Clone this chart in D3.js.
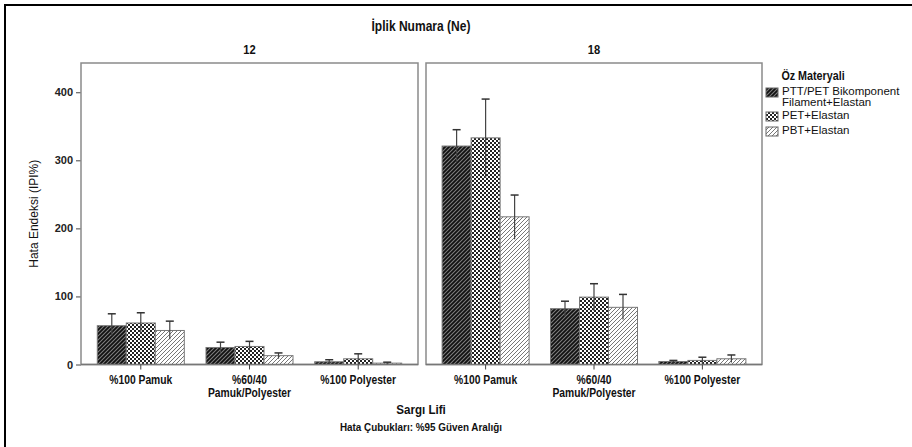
<!DOCTYPE html>
<html>
<head>
<meta charset="utf-8">
<script src="https://cdn.jsdelivr.net/npm/d3@7"></script>
<style>
  body { margin: 0; background: #fff; }
  .narrow { font-family: "Liberation Sans", Arial, sans-serif; font-weight: bold; }
  .sans { font-family: "Liberation Sans", Arial, sans-serif; }
</style>
</head>
<body>
<div id="chart"></div>
<script>
const WIDTH = 912, HEIGHT = 447;

// data
const panels = ["12", "18"];
const categories = ["%100 Pamuk", "%60/40\nPamuk/Polyester", "%100 Polyester"];
const series = ["PTT/PET Bikomponent\nFilament+Elastan", "PET+Elastan", "PBT+Elastan"];

// means [panel][category][series]
const means = [
  [[57, 61, 50], [25, 26.5, 13], [4, 8.4, 2]],
  [[321, 333, 217], [82, 99, 84], [4.4, 6, 8.4]]
];
const lowers = [
  [[42.6, 45, 37], [16, 18, 8.5], [1, 1, 0.5]],
  [[297.5, 274.5, 184], [71, 79, 66], [3, 1, 3]]
];
const uppers = [
  [[74.5, 76, 63.7], [32.8, 34, 17], [7, 15.7, 3.4]],
  [[345, 390, 249], [93, 118.7, 103], [6, 10.7, 14]]
];
const yTicks = [0, 100, 200, 300, 400];

const svg = d3.select("#chart").append("svg")
  .attr("width", WIDTH).attr("height", HEIGHT);

// condensed-looking bold text (no narrow font installed, so squeeze it)
function narrowText(parent, x, y, size, txt, lh) {
  const t = parent.append("text").attr("class", "narrow")
    .attr("transform", `translate(${x},${y}) scale(0.86,1)`)
    .attr("text-anchor", "middle").attr("font-size", size).attr("fill", "#111");
  txt.split("\n").forEach((ln, li) => {
    t.append("tspan").attr("x", 0).attr("y", li * (lh || size)).text(ln);
  });
  return t;
}

// hatch patterns
const defs = svg.append("defs");
const p1 = defs.append("pattern").attr("id", "pat0").attr("patternUnits", "userSpaceOnUse")
  .attr("width", 4).attr("height", 4);
p1.append("rect").attr("width", 4).attr("height", 4).attr("fill", "#808080");
p1.append("path").attr("d", "M-1,1 l2,-2 M0,4 l4,-4 M3,5 l2,-2")
  .attr("stroke", "#111").attr("stroke-width", 1.8);

const p2 = defs.append("pattern").attr("id", "pat1").attr("patternUnits", "userSpaceOnUse")
  .attr("width", 4).attr("height", 4);
p2.append("rect").attr("width", 4).attr("height", 4).attr("fill", "#fff");
p2.append("rect").attr("width", 2).attr("height", 2).attr("fill", "#222");
p2.append("rect").attr("x", 2).attr("y", 2).attr("width", 2).attr("height", 2).attr("fill", "#222");

const p3 = defs.append("pattern").attr("id", "pat2").attr("patternUnits", "userSpaceOnUse")
  .attr("width", 4).attr("height", 4);
p3.append("rect").attr("width", 4).attr("height", 4).attr("fill", "#fff");
p3.append("path").attr("d", "M-1,1 l2,-2 M0,4 l4,-4 M3,5 l2,-2")
  .attr("stroke", "#777").attr("stroke-width", 1);

// outer frame
svg.append("rect").attr("x", 5).attr("y", 5).attr("width", 920).attr("height", 460)
  .attr("fill", "none").attr("stroke", "#000").attr("stroke-width", 2);

const PLOT_TOP = 63, PLOT_BOTTOM = 364.5;
const panelX = [[81, 418], [426, 762]];

const y = d3.scaleLinear().domain([0, 443]).range([PLOT_BOTTOM, PLOT_TOP]);

// y axis
const yAxis = svg.append("g").attr("transform", `translate(${panelX[0][0]},0)`)
  .call(d3.axisLeft(y).tickValues(yTicks).tickSize(5).tickSizeOuter(0));
yAxis.select(".domain").remove();
yAxis.selectAll("line").attr("stroke", "#444");
yAxis.selectAll("text").attr("class", "sans").attr("font-size", 11).attr("font-weight", "bold")
  .attr("fill", "#222");

svg.append("text").attr("class", "sans")
  .attr("transform", `translate(38,${(PLOT_TOP + PLOT_BOTTOM) / 2}) rotate(-90)`)
  .attr("text-anchor", "middle").attr("font-size", 12).attr("fill", "#111")
  .text("Hata Endeksi (IPI%)");

panels.forEach((pn, pi) => {
  const [x0, x1] = panelX[pi];
  const x = d3.scalePoint().domain(categories).range([x0, x1]).padding(0.55);
  const xs = d3.scaleBand().domain(series).range([-43.5, 43.5]);

  const g = svg.append("g");
  g.append("rect").attr("x", x0).attr("y", PLOT_TOP).attr("width", x1 - x0)
    .attr("height", PLOT_BOTTOM - PLOT_TOP).attr("fill", "#fff")
    .attr("stroke", "#8a8a8a").attr("stroke-width", 1.5);

  categories.forEach((c, ci) => {
    series.forEach((s, si) => {
      const bx = x(c) + xs(s);
      g.append("rect").attr("x", bx).attr("y", y(means[pi][ci][si]))
        .attr("width", xs.bandwidth()).attr("height", y(0) - y(means[pi][ci][si]))
        .attr("fill", `url(#pat${si})`).attr("stroke", "#777").attr("stroke-width", 1);
    });
  });
  // baseline
  g.append("line").attr("x1", x0).attr("x2", x1).attr("y1", y(0)).attr("y2", y(0))
    .attr("stroke", "#777").attr("stroke-width", 1.5);

  categories.forEach((c, ci) => {
    series.forEach((s, si) => {
      const cx = x(c) + xs(s) + xs.bandwidth() / 2;
      const lo = y(lowers[pi][ci][si]), hi = y(uppers[pi][ci][si]);
      g.append("line").attr("x1", cx).attr("x2", cx).attr("y1", lo).attr("y2", hi)
        .attr("stroke", "#444").attr("stroke-width", 1.2);
      g.append("line").attr("x1", cx - 4).attr("x2", cx + 4).attr("y1", hi).attr("y2", hi)
        .attr("stroke", "#333").attr("stroke-width", 1.5);
    });
    // category tick
    g.append("line").attr("x1", x(c)).attr("x2", x(c)).attr("y1", PLOT_BOTTOM)
      .attr("y2", PLOT_BOTTOM + 5).attr("stroke", "#444");
    narrowText(g, x(c), 384, 12, c, 13);
  });

  narrowText(svg, (x0 + x1) / 2, 54, 13, pn);
});

narrowText(svg, 421, 31, 14, "İplik Numara (Ne)");
narrowText(svg, 421, 414, 13.5, "Sargı Lifi");
narrowText(svg, 421, 431, 11.5, "Hata Çubukları: %95 Güven Aralığı");

// legend
narrowText(svg, 813, 80, 12.5, "Öz Materyali");
const legendY = [96, 120, 135];
series.forEach((s, si) => {
  svg.append("rect").attr("x", 766).attr("y", legendY[si] - 8).attr("width", 12).attr("height", 9)
    .attr("fill", `url(#pat${si})`).attr("stroke", "#666").attr("stroke-width", 1);
  const t = svg.append("text").attr("class", "sans").attr("font-size", 11.5).attr("fill", "#111");
  s.split("\n").forEach((ln, li) => {
    t.append("tspan").attr("x", 782).attr("y", legendY[si] - 1 + li * 10.5).text(ln);
  });
});
</script>
</body>
</html>
